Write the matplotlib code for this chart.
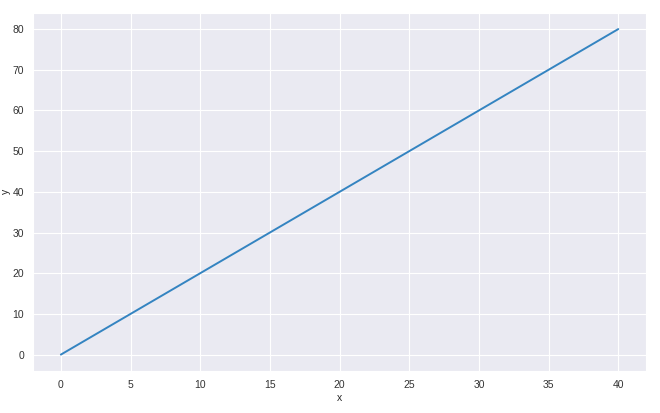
import matplotlib
matplotlib.use("Agg")
import matplotlib.pyplot as plt
import seaborn as sns

x_values = [0, 10, 20, 30, 40]
y_values = [0, 20, 40, 60, 80]

sns.set_style("darkgrid")
plt.rcParams['font.family'] = ['Liberation Sans', 'DejaVu Sans']

fig = plt.figure(figsize=(6.6, 4.13), dpi=100)
ax = fig.add_axes([0.05, 0.102, 0.929, 0.867])
ax.plot(x_values, y_values, color='#3484c1', linewidth=1.4)
ax.set_xlabel('x', fontsize=7.5, labelpad=2)
ax.set_ylabel('y', fontsize=7.5, labelpad=1)
ax.tick_params(labelsize=7.5, colors='#333333', pad=3)
ax.set_xticks(range(0, 41, 5))
ax.set_yticks(range(0, 81, 10))
fig.savefig('out.png', dpi=100)
